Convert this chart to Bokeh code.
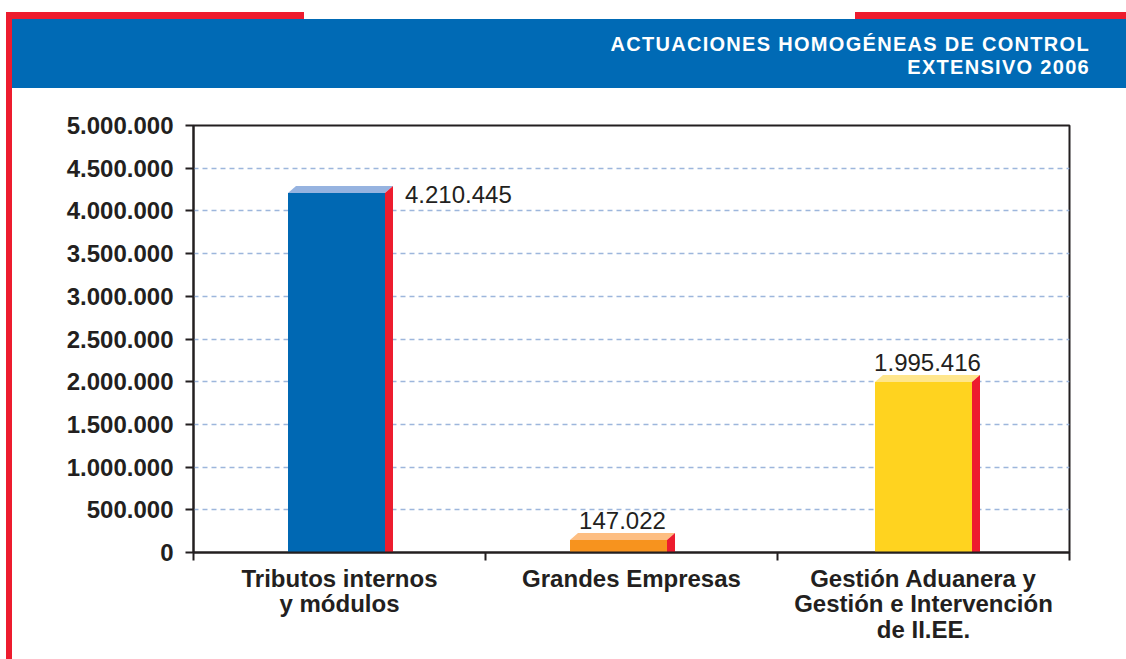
from bokeh.plotting import figure
from bokeh.models import Range1d, FixedTicker, ColumnDataSource, Div
from bokeh.layouts import row, column
from bokeh.embed import file_html
from bokeh.resources import INLINE
from bokeh.core.properties import value

# ---- data ----
categories = ["Tributos internos\ny módulos", "Grandes Empresas",
              "Gestión Aduanera y\nGestión e Intervención\nde II.EE."]
values = [4210445, 147022, 1995416]
front_colors = ["#0068B3", "#F7931E", "#FFD31F"]
top_colors = ["#96B3E0", "#FDBE82", "#FFE68C"]
side_color = "#ED1C2E"
title_lines = ["ACTUACIONES HOMOGÉNEAS DE CONTROL", "EXTENSIVO 2006"]
y_ticks = [0, 500000, 1000000, 1500000, 2000000, 2500000, 3000000,
           3500000, 4000000, 4500000, 5000000]
y_max = 5000000

# ---- layout / style constants ----
BAR_SHIFT_PX = [-3, -13, 0]   # horizontal nudge of each bar, in pixels

FONT = "Liberation Sans"
DARK = "#231F20"
BLUE = "#006AB5"
RED = "#ED1C2E"
FS = "24px"

PAGE_W, PAGE_H = 1126, 659
LEFT_W = 12
HEAD_H = 88
W, H = PAGE_W - LEFT_W, PAGE_H - HEAD_H
ML, MR, MT, MB = 181, 57, 37, 107
frame_w = W - ML - MR
frame_h = H - MT - MB
n = len(categories)
px_x = n / frame_w
px_y = y_max / frame_h

def fmt(v):
    return f"{v:,}".replace(",", ".")

p = figure(width=W, height=H, output_backend="svg", toolbar_location=None,
           x_range=Range1d(0, n), y_range=Range1d(0, y_max),
           min_border_left=ML, min_border_right=MR, min_border_top=MT, min_border_bottom=MB)
p.background_fill_color = "white"
p.border_fill_color = "white"
p.outline_line_color = DARK
p.outline_line_width = 2

# axes
centers = [i + 0.5 for i in range(n)]
p.xaxis.ticker = FixedTicker(ticks=centers, minor_ticks=list(range(n + 1)))
p.xaxis.major_label_overrides = {c: lab for c, lab in zip(centers, categories)}
p.xaxis.major_tick_out = 0
p.xaxis.major_tick_in = 0
p.xaxis.minor_tick_out = 8
p.xaxis.minor_tick_in = 0
p.xaxis.minor_tick_line_color = DARK
p.xaxis.minor_tick_line_width = 2
p.xaxis.axis_line_color = DARK
p.xaxis.axis_line_width = 2
p.xaxis.major_label_text_font = FONT
p.xaxis.major_label_text_font_style = "bold"
p.xaxis.major_label_text_font_size = FS
p.xaxis.major_label_text_color = DARK
p.xaxis.major_label_text_line_height = 0.95
p.xaxis.major_label_standoff = 4

p.yaxis.ticker = FixedTicker(ticks=y_ticks)
p.yaxis.major_label_overrides = {t: fmt(t) for t in y_ticks}
p.yaxis.major_tick_out = 8
p.yaxis.major_tick_in = 0
p.yaxis.minor_tick_out = 0
p.yaxis.minor_tick_in = 0
p.yaxis.major_tick_line_color = DARK
p.yaxis.major_tick_line_width = 2
p.yaxis.axis_line_color = DARK
p.yaxis.axis_line_width = 2
p.yaxis.major_label_text_font = FONT
p.yaxis.major_label_text_font_style = "bold"
p.yaxis.major_label_text_font_size = FS
p.yaxis.major_label_text_color = DARK
p.yaxis.major_label_standoff = 12

p.xgrid.visible = False
p.ygrid.ticker = FixedTicker(ticks=y_ticks)
p.ygrid.grid_line_color = "#9DB6DC"
p.ygrid.grid_line_dash = "5 4"
p.ygrid.grid_line_width = 1.5

# 3D bars
bar_w = 97 * px_x
dx = 8 * px_x
dy = 7 * px_y
lefts = [c + s * px_x - bar_w / 2 for c, s in zip(centers, BAR_SHIFT_PX)]
rights = [l + bar_w for l in lefts]

p.quad(left=lefts, right=rights, bottom=0, top=values, fill_color=front_colors, line_color=None)
top_xs = [[l, l + dx, r + dx, r] for l, r in zip(lefts, rights)]
top_ys = [[v, v + dy, v + dy, v] for v in values]
p.patches(top_xs, top_ys, fill_color=top_colors, line_color=None)
side_xs = [[r, r, r + dx, r + dx] for r in rights]
side_ys = [[0, v, v + dy, 0] for v in values]
p.patches(side_xs, side_ys, fill_color=side_color, line_color=None)

# value labels
right_src = dict(x=[], y=[], t=[])
above_src = dict(x=[], y=[], t=[])
for l, r, v in zip(lefts, rights, values):
    if v > 0.8 * y_max:
        right_src["x"].append(r + dx); right_src["y"].append(v); right_src["t"].append(fmt(v))
    else:
        above_src["x"].append((l + r + dx) / 2); above_src["y"].append(v + dy); above_src["t"].append(fmt(v))
p.text(x="x", y="y", text="t", source=ColumnDataSource(right_src), x_offset=12, y_offset=2,
       text_align="left", text_baseline="middle", text_font=value(FONT),
       text_font_size=FS, text_color=DARK)
p.text(x="x", y="y", text="t", source=ColumnDataSource(above_src), x_offset=0, y_offset=-4,
       text_align="center", text_baseline="bottom", text_font=value(FONT),
       text_font_size=FS, text_color=DARK)

# header / frame decoration (HTML)
left_html = (
    f'<div style="position:relative;width:{LEFT_W}px;height:{PAGE_H}px;">'
    f'<div style="position:absolute;left:6px;top:12px;width:6px;height:{PAGE_H - 12}px;background:{RED};"></div>'
    '</div>'
)
head_w = PAGE_W - LEFT_W
title_style = (f"position:absolute;right:{head_w - 1078}px;text-align:right;color:white;"
               f"font-family:'{FONT}';font-weight:bold;font-size:20px;line-height:23px;"
               "letter-spacing:1.3px;white-space:nowrap;")
title_divs = "".join(
    f'<div style="{title_style}top:{33 + 23 * i}px;">{t}</div>' for i, t in enumerate(title_lines)
)
head_html = (
    f'<div style="position:relative;width:{head_w}px;height:{HEAD_H}px;">'
    f'<div style="position:absolute;left:0px;top:12px;width:292px;height:7px;background:{RED};"></div>'
    f'<div style="position:absolute;left:843px;top:12px;width:{head_w - 843}px;height:7px;background:{RED};"></div>'
    f'<div style="position:absolute;left:0px;top:19px;width:{head_w}px;height:69px;background:{BLUE};"></div>'
    f'{title_divs}'
    '</div>'
)
left_div = Div(text=left_html, width=LEFT_W, height=PAGE_H, margin=0)
head_div = Div(text=head_html, width=head_w, height=HEAD_H, margin=0)

layout = row(left_div, column(head_div, p, spacing=0), spacing=0)
open("out.html", "w").write(file_html(layout, INLINE))
